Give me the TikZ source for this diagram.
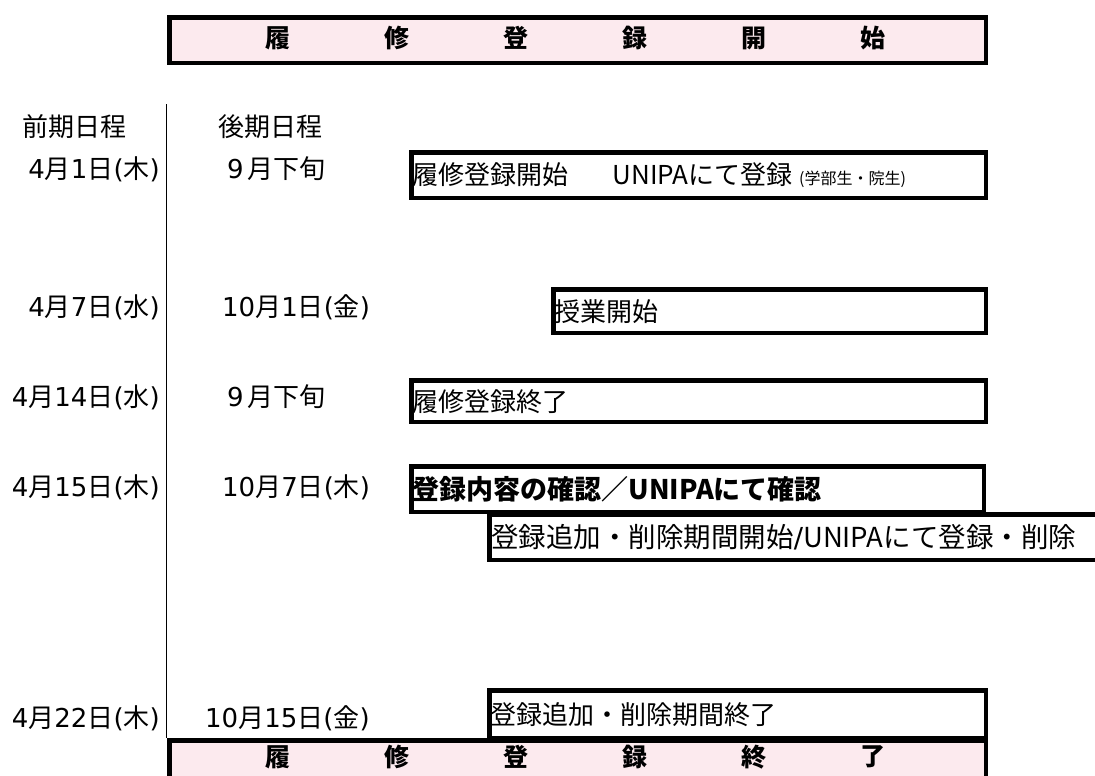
\documentclass[tikz,border=0pt]{standalone}
\usepackage{fontspec}
\setmainfont{Noto Sans CJK JP}
\newfontfamily\vfont{DejaVu Sans}
\newcommand\V[1]{{\vfont #1}}
\definecolor{bannerpink}{RGB}{252,234,238}
\begin{document}
\begin{tikzpicture}[x=1pt,y=-1pt,
  box/.style={draw, line width=4.5pt, rectangle, inner sep=0pt, anchor=north west},
  banner/.style={box, fill=bannerpink},
  lbl/.style={anchor=west, inner sep=0pt, font=\fontsize{26}{30}\selectfont},
  lblb/.style={lbl, font=\fontsize{27}{30}\selectfont\bfseries},
  datel/.style={anchor=east, inner sep=0pt, font=\fontsize{26}{30}\selectfont},
  dater/.style={anchor=west, inner sep=0pt, font=\fontsize{26}{30}\selectfont},
  btxt/.style={inner sep=0pt, font=\fontsize{25}{30}\selectfont\bfseries}]
\clip (0,0) rectangle (1095,776);
\fill[white] (0,0) rectangle (1095,776);

% top banner
\node[banner, minimum width=816.5pt, minimum height=45.5pt] (ban1) at (167.25,15.25) {};
\foreach \c [count=\i from 0] in {履,修,登,録,開,始}
  \node[btxt] (ta\i) at (277.5+119*\i, 38) {\c};

% timeline line
\coordinate (vtop) at (166.5,104);
\coordinate (vbot) at (166.5,738);
\draw[line width=1pt] (vtop) -- (vbot);

% headers
\node[dater] (h1) at (22,127) {前期日程};
\node[dater] (h2) at (218,127) {後期日程};

% dates
\node[datel] (d1) at (160,169) {\V{4}月\V{1}日\V{(}木\V{)}};
\node[dater] (e1) at (227,169) {\V{9}\hspace{4pt}月下旬};
\node[datel] (d2) at (160,307) {\V{4}月\V{7}日\V{(}水\V{)}};
\node[dater] (e2) at (222,307) {\V{10}月\V{1}日\V{(}金\V{)}};
\node[datel] (d3) at (160,397) {\V{4}月\V{14}日\V{(}水\V{)}};
\node[dater] (e3) at (227,397) {\V{9}\hspace{4pt}月下旬};
\node[datel] (d4) at (160,487) {\V{4}月\V{15}日\V{(}木\V{)}};
\node[dater] (e4) at (222,487) {\V{10}月\V{7}日\V{(}木\V{)}};
\node[datel] (d5) at (160,718) {\V{4}月\V{22}日\V{(}木\V{)}};
\node[dater] (e5) at (205,718) {\V{10}月\V{15}日\V{(}金\V{)}};

% boxes
\node[box, minimum width=574.5pt, minimum height=45.5pt] (b1) at (409.25,150.25) {};
\node[lbl] (l1) at ([xshift=3pt]b1.west) {履修登録開始\hspace{1.7em}UNIPAにて登録\hspace{0.25em}{\fontsize{16}{18}\selectfont (学部生・院生)}};

\node[box, minimum width=432.5pt, minimum height=43.5pt] (b2) at (551.25,287.25) {};
\node[lbl] (l2) at ([xshift=3pt]b2.west) {授業開始};

\node[box, minimum width=574.5pt, minimum height=41.5pt] (b3) at (409.25,378.25) {};
\node[lbl] (l3) at ([xshift=3pt]b3.west) {履修登録終了};

\node[box, minimum width=640pt, minimum height=45.5pt] (b5) at (487.25,512.25) {};
\node[lbl, font=\fontsize{27.5}{30}\selectfont] (l5) at ([xshift=4pt]b5.west) {登録追加・削除期間開始\V{/}UNIPAにて登録・削除};

\node[box, minimum width=572.5pt, minimum height=45.5pt] (b4) at (409.25,464.25) {};
\node[lblb] (l4) at ([xshift=3pt]b4.west) {登録内容の確認／UNIPAにて確認};

\node[box, minimum width=496.5pt, minimum height=47.5pt] (b6) at (487.25,688.25) {};
\node[lbl] (l6) at ([xshift=3pt]b6.west) {登録追加・削除期間終了};

% bottom banner
\node[banner, minimum width=816.5pt, minimum height=60pt] (ban2) at (167.25,738.25) {};
\foreach \c [count=\i from 0] in {履,修,登,録,終,了}
  \node[btxt] (tb\i) at (277.5+119*\i, 757) {\c};
\end{tikzpicture}
\end{document}
